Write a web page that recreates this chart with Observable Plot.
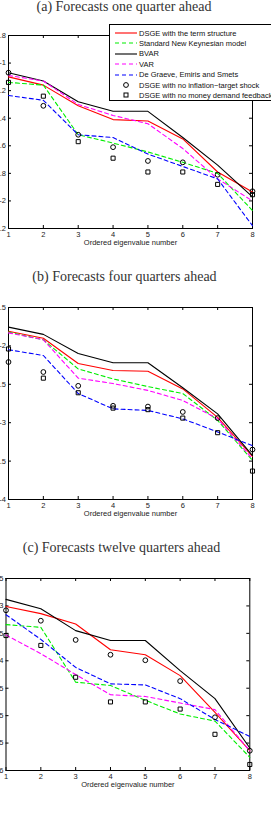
<!DOCTYPE html>
<html>
<head>
<meta charset="utf-8">
<script src="https://cdn.jsdelivr.net/npm/d3@7"></script>
<script src="https://cdn.jsdelivr.net/npm/@observablehq/plot@0.6"></script>
<style>
  html, body { margin: 0; padding: 0; background: #fff; }
  body { width: 271px; height: 821px; overflow: hidden; position: relative;
         font-family: "Liberation Sans", Arial, sans-serif; }
  .title { position: absolute; white-space: nowrap; font-family: "Liberation Serif", serif;
           font-size: 14px; line-height: 14px; color: #333; transform: translateX(-50%); }
  .panel { position: absolute; left: 0; }
  .legend { position: absolute; left: 109px; top: 24px; width: 180px; height: 77px;
            border: 1px solid #000; background: #fff; box-sizing: border-box; }
  .legend .row { position: absolute; left: 0; height: 10px; display: flex; align-items: center;
                 font-size: 7.5px; color: #111; white-space: nowrap; }
  .legend svg { display: block; margin-right: 0; }
</style>
</head>
<body>
<div id="root"></div>
<script>
// Ordered eigenvalue numbers on the horizontal axis
const eigen = [1, 2, 3, 4, 5, 6, 7, 8];

// (a) one quarter ahead
const aTerm    = [-1.10, -1.16, -1.31, -1.41, -1.42, -1.55, -1.79, -1.935];
const aNK      = [-1.14, -1.16, -1.52, -1.58, -1.645, -1.72, -1.80, -2.07];
const aBVAR    = [-1.07, -1.13, -1.28, -1.35, -1.35, -1.54, -1.74, -1.97];
const aVAR     = [-1.09, -1.13, -1.30, -1.38, -1.44, -1.62, -1.84, -2.00];
const aDGES    = [-1.235, -1.27, -1.52, -1.54, -1.66, -1.75, -1.84, -2.18];
const aNoInfl  = [-1.07, -1.31, -1.52, -1.61, -1.71, -1.72, -1.81, -1.93];
const aNoMoney = [-1.14, -1.24, -1.57, -1.69, -1.79, -1.79, -1.88, -1.955];
const aTicks   = [-2.2, -2, -1.8, -1.6, -1.4, -1.2, -1, -0.8];

// (b) four quarters ahead
const bTerm    = [-1.81, -1.90, -2.23, -2.32, -2.33, -2.56, -2.93, -3.44];
const bNK      = [-1.82, -1.92, -2.30, -2.43, -2.53, -2.62, -2.97, -3.49];
const bBVAR    = [-1.756, -1.85, -2.10, -2.22, -2.22, -2.545, -2.885, -3.43];
const bVAR     = [-1.83, -1.92, -2.42, -2.49, -2.58, -2.71, -2.95, -3.47];
const bDGES    = [-2.05, -2.125, -2.62, -2.82, -2.84, -2.95, -3.12, -3.30];
const bNoInfl  = [-2.21, -2.34, -2.52, -2.78, -2.79, -2.86, -2.94, -3.35];
const bNoMoney = [-2.04, -2.42, -2.61, -2.81, -2.83, -2.94, -3.13, -3.63];
const bTicks   = [-4, -3.5, -3, -2.5, -2, -1.5];

// (c) twelve quarters ahead
const cTerm    = [-3.01, -3.14, -3.33, -3.80, -3.89, -4.27, -4.94, -5.64];
const cNK      = [-3.34, -3.39, -4.39, -4.45, -4.72, -4.97, -5.10, -5.76];
const cBVAR    = [-2.88, -3.05, -3.45, -3.63, -3.63, -4.18, -4.69, -5.59];
const cVAR     = [-3.53, -3.87, -4.25, -4.62, -4.65, -4.77, -4.89, -5.64];
const cDGES    = [-3.16, -3.61, -4.12, -4.42, -4.44, -4.69, -5.07, -5.38];
const cNoInfl  = [-3.08, -3.27, -3.62, -3.89, -3.99, -4.37, -5.03, -5.64];
const cNoMoney = [-3.54, -3.72, -4.30, -4.75, -4.75, -4.88, -5.34, -5.89];
const cTicks   = [-6, -5.5, -5, -4.5, -4, -3.5, -3, -2.5];

const seriesNames = [
  "DSGE with the term structure",
  "Standard New Keynesian model",
  "BVAR",
  "VAR",
  "De Graeve, Emiris and Smets",
  "DSGE with no inflation\u2212target shock",
  "DSGE with no money demand feedback"
];
const lineStyles = [
  {stroke: "#ff0000", dash: null},
  {stroke: "#00ee00", dash: "4,3"},
  {stroke: "#000000", dash: null},
  {stroke: "#ff00ff", dash: "4,3"},
  {stroke: "#0000ff", dash: "4,3"}
];

const root = document.getElementById("root");

function title(text, cx, cy) {
  const d = document.createElement("div");
  d.className = "title";
  d.textContent = text;
  d.style.left = cx + "px";
  d.style.top = (cy - 7) + "px";
  root.appendChild(d);
}

function panel({top, lines, circles, squares, yDomain, yTicks, marginLeft, marginRight, plotHeight}) {
  const width = 271, marginTop = 15, marginBottom = 30;
  const plotWidth = width - marginLeft - marginRight;
  const pts = (vals) => eigen.map((e, i) => ({x: e, y: vals[i]}));
  const marks = [
    Plot.frame({stroke: "#000", strokeWidth: 1}),
    // inward ticks on all four sides
    Plot.tickX(eigen, {x: d => d, insetTop: plotHeight - 3, stroke: "#000"}),
    Plot.tickX(eigen, {x: d => d, insetBottom: plotHeight - 3, stroke: "#000"}),
    Plot.tickY(yTicks, {y: d => d, insetRight: plotWidth - 3, stroke: "#000"}),
    Plot.tickY(yTicks, {y: d => d, insetLeft: plotWidth - 3, stroke: "#000"}),
    Plot.axisX({ticks: eigen, tickSize: 0, tickPadding: 3, tickFormat: d => String(d), label: null, fill: "#222"}),
    Plot.axisY({ticks: yTicks, tickSize: 0, tickPadding: 2.5, tickFormat: d => String(d), label: null, fill: "#222"}),
    Plot.text(["Ordered eigenvalue number"], {frameAnchor: "bottom", dy: 16, fill: "#222"})
  ];
  lines.forEach((vals, k) => {
    marks.push(Plot.line(pts(vals), {x: "x", y: "y", stroke: lineStyles[k].stroke,
      strokeWidth: 1.1, strokeDasharray: lineStyles[k].dash}));
  });
  marks.push(Plot.dot(pts(circles), {x: "x", y: "y", symbol: "circle", r: 2.4, stroke: "#000", strokeWidth: 1, fill: "none"}));
  marks.push(Plot.dot(pts(squares), {x: "x", y: "y", symbol: "square", r: 2.3, stroke: "#000", strokeWidth: 1, fill: "none"}));
  const svg = Plot.plot({
    width, height: marginTop + plotHeight + marginBottom,
    marginTop, marginBottom, marginLeft, marginRight,
    x: {domain: [1, 8]},
    y: {domain: yDomain},
    style: {fontSize: "7.5px", fontFamily: "'Liberation Sans', Arial, sans-serif", background: "transparent"},
    marks
  });
  const holder = document.createElement("div");
  holder.className = "panel";
  holder.style.top = top + "px";
  holder.appendChild(svg);
  root.appendChild(holder);
}

title("(a) Forecasts one quarter ahead", 124, 7);
panel({top: 20, plotHeight: 193, marginLeft: 8, marginRight: 19,
  lines: [aTerm, aNK, aBVAR, aVAR, aDGES], circles: aNoInfl, squares: aNoMoney,
  yDomain: [-2.2, -0.8], yTicks: aTicks});

title("(b) Forecasts four quarters ahead", 124.5, 277);
panel({top: 292, plotHeight: 192, marginLeft: 8, marginRight: 19,
  lines: [bTerm, bNK, bBVAR, bVAR, bDGES], circles: bNoInfl, squares: bNoMoney,
  yDomain: [-4, -1.5], yTicks: bTicks});

title("(c) Forecasts twelve quarters ahead", 121.5, 547.5);
panel({top: 563, plotHeight: 192, marginLeft: 5.5, marginRight: 21.7,
  lines: [cTerm, cNK, cBVAR, cVAR, cDGES], circles: cNoInfl, squares: cNoMoney,
  yDomain: [-6, -2.5], yTicks: cTicks});

// legend box for panel (a)
const legend = document.createElement("div");
legend.className = "legend";
const NS = "http://www.w3.org/2000/svg";
seriesNames.forEach((name, k) => {
  const row = document.createElement("div");
  row.className = "row";
  row.style.top = (3 + k * 10.4) + "px";
  const sw = document.createElementNS(NS, "svg");
  sw.setAttribute("width", 29); sw.setAttribute("height", 10);
  if (k < lineStyles.length) {
    const l = document.createElementNS(NS, "line");
    l.setAttribute("x1", 5); l.setAttribute("x2", 27);
    l.setAttribute("y1", 5); l.setAttribute("y2", 5);
    l.setAttribute("stroke", lineStyles[k].stroke);
    l.setAttribute("stroke-width", 1.1);
    if (lineStyles[k].dash) l.setAttribute("stroke-dasharray", lineStyles[k].dash);
    sw.appendChild(l);
  } else if (k === 5) {
    const c = document.createElementNS(NS, "circle");
    c.setAttribute("cx", 16); c.setAttribute("cy", 5); c.setAttribute("r", 2.4);
    c.setAttribute("fill", "none"); c.setAttribute("stroke", "#000");
    sw.appendChild(c);
  } else {
    const r = document.createElementNS(NS, "rect");
    r.setAttribute("x", 14); r.setAttribute("y", 3); r.setAttribute("width", 4); r.setAttribute("height", 4);
    r.setAttribute("fill", "none"); r.setAttribute("stroke", "#000");
    sw.appendChild(r);
  }
  row.appendChild(sw);
  const t = document.createElement("span");
  t.textContent = name;
  row.appendChild(t);
  legend.appendChild(row);
});
root.appendChild(legend);
</script>
</body>
</html>
